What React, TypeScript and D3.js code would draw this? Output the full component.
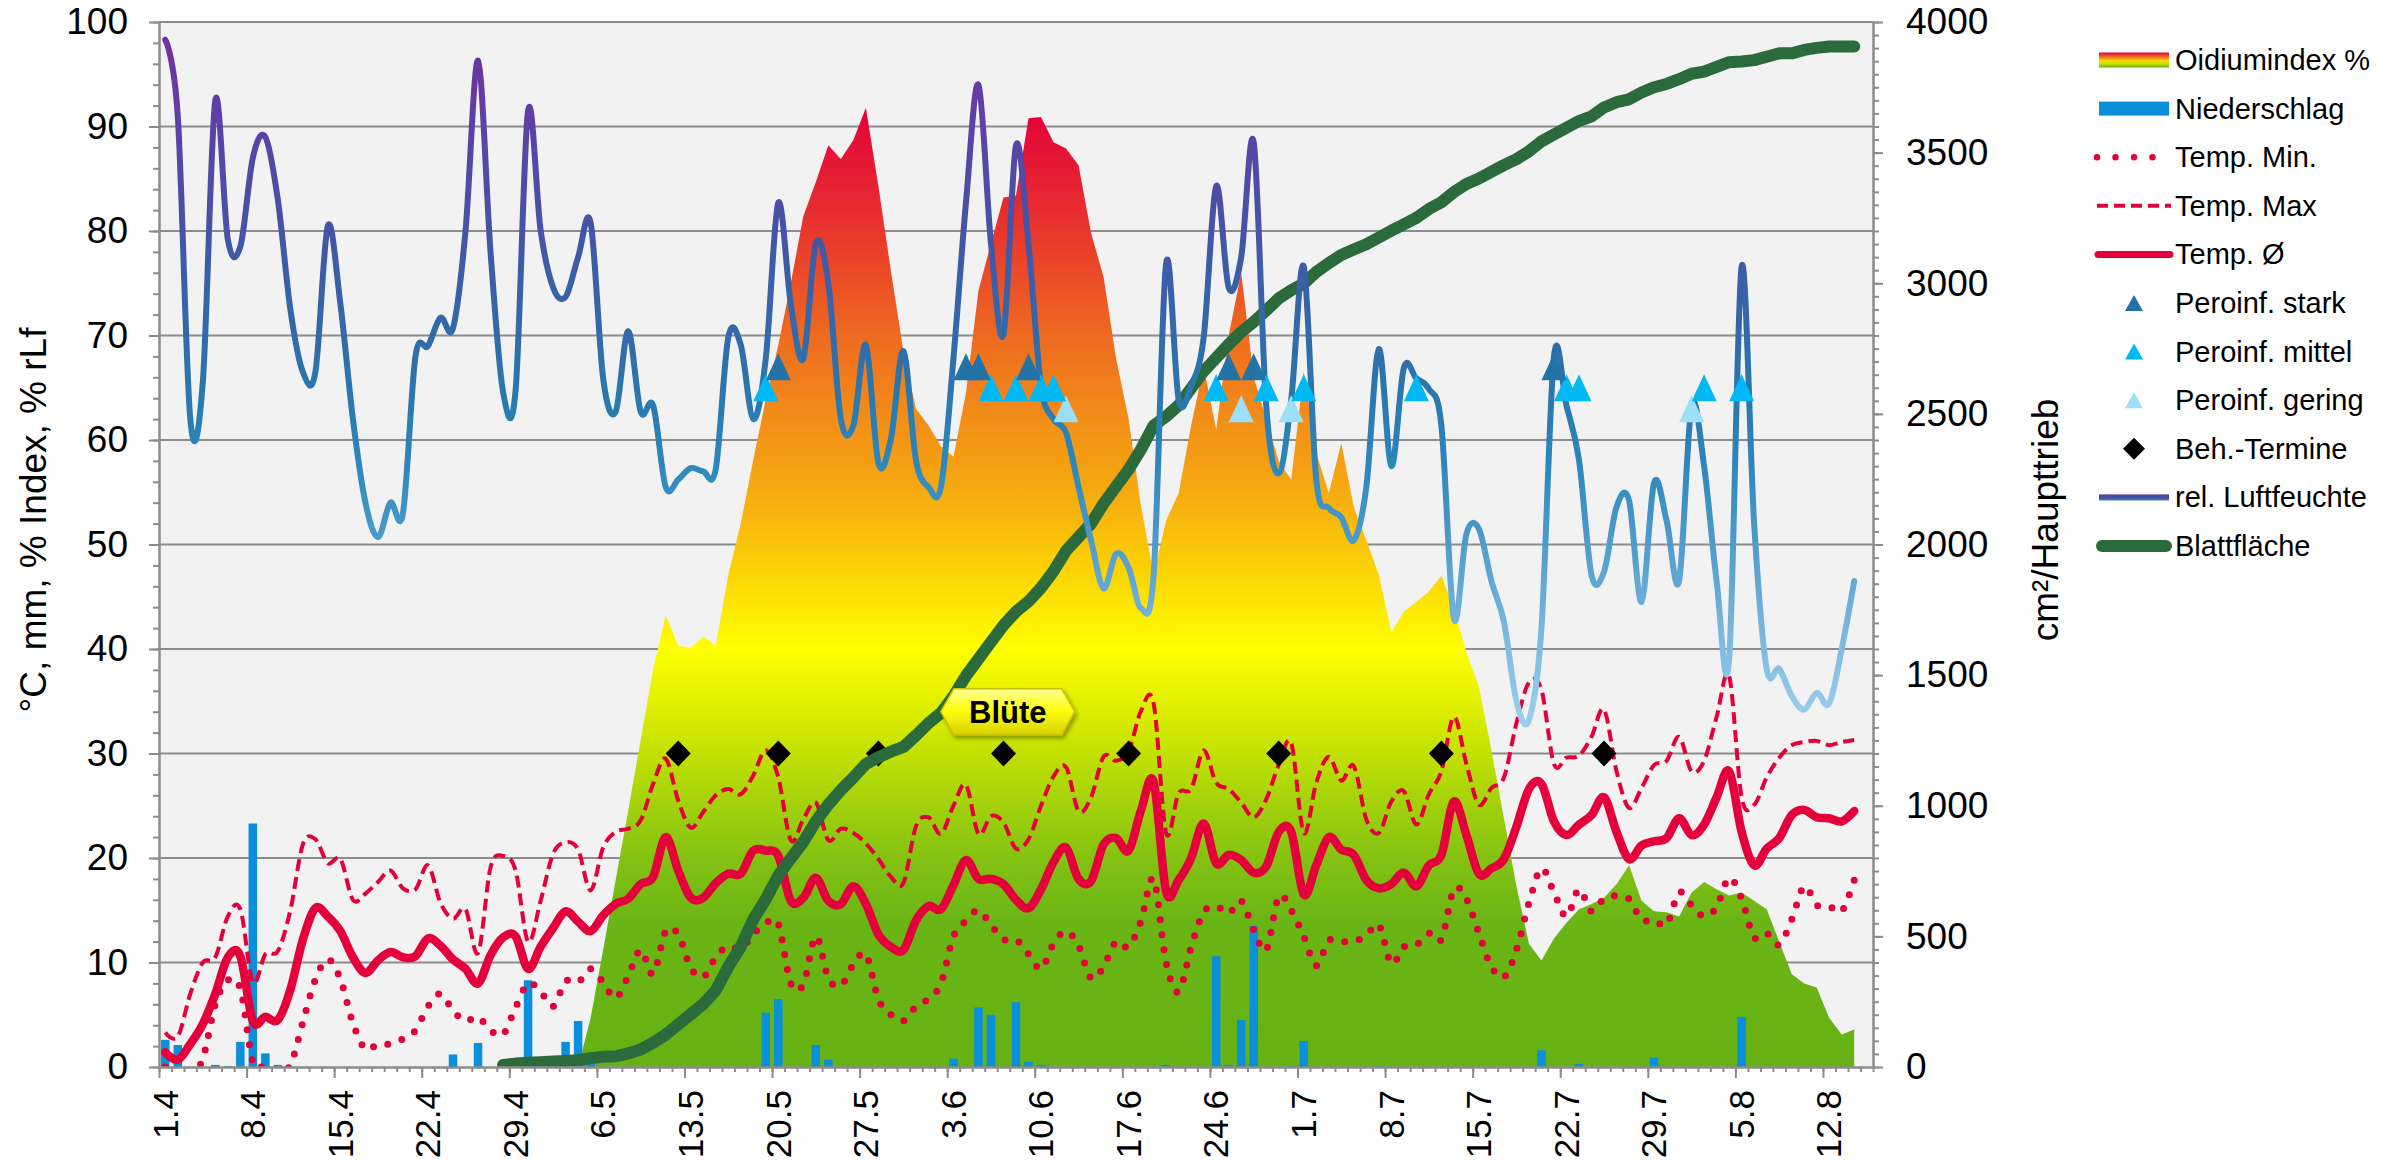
import { useEffect, useRef } from "react";
import * as d3 from "d3";

const width = 2404;
const height = 1163;
const plot = { left: 159, right: 1873, top: 22, bottom: 1067 };
const font = "'Liberation Sans', Arial, sans-serif";
const red = "#e4003b";
const axisGray = "#8c8c8c";

// categories: one per day, 1.4 .. 16.8
const nDays = 137;
const tickLabels = ["1.4", "8.4", "15.4", "22.4", "29.4", "6.5", "13.5", "20.5", "27.5", "3.6",
  "10.6", "17.6", "24.6", "1.7", "8.7", "15.7", "22.7", "29.7", "5.8", "12.8"];

// daily series, day 0 = 1.4
const tempAvg = [1.4, 0.7, 2.2, 4.1, 7.0, 10.5, 10.6, 4.4, 4.8, 4.5,
  7.4, 12.2, 15.2, 14.4, 13.0, 10.5, 9.0, 10.2, 11.0, 10.5,
  10.6, 12.3, 11.6, 10.3, 9.4, 8.0, 10.7, 12.4, 12.5, 9.4,
  11.5, 13.3, 14.9, 13.9, 13.0, 14.5, 15.6, 16.1, 17.5, 18.2,
  22.0, 18.8, 16.2, 16.2, 17.6, 18.5, 18.5, 20.7, 20.7, 20.2,
  15.9, 16.2, 18.1, 15.9, 15.6, 17.3, 15.6, 12.7, 11.5, 11.2,
  14.0, 15.4, 15.1, 17.4, 19.8, 18.0, 18.0, 17.5, 16.0, 15.2,
  17.0, 19.6, 21.0, 18.0, 17.8, 21.3, 21.9, 20.7, 24.6, 27.3,
  16.8, 17.9, 20.0, 23.3, 19.5, 20.3, 19.8, 18.6, 19.2, 22.5,
  22.5, 16.5, 19.3, 22.0, 20.8, 20.3, 17.9, 17.1, 17.5, 18.6,
  17.3, 19.3, 20.3, 25.4, 22.2, 18.5, 19.0, 19.9, 23.0, 26.6,
  27.1, 23.5, 22.2, 23.2, 24.1, 25.8, 22.5, 19.9, 21.2, 21.6,
  21.9, 23.8, 22.2, 23.2, 25.8, 28.3, 22.5, 19.3, 20.9, 21.9,
  24.1, 24.6, 23.9, 23.8, 23.5, 24.5];

const tempMax = [3.3, 2.9, 7.0, 10.0, 10.5, 14.4, 15.1, 8.1, 10.8, 11.1,
  15.0, 21.3, 21.8, 19.5, 19.9, 16.0, 16.6, 17.7, 18.8, 17.1,
  17.0, 19.3, 15.7, 14.2, 15.1, 10.9, 19.1, 20.2, 18.8, 12.0,
  15.9, 20.4, 21.5, 20.8, 16.9, 21.0, 22.5, 22.8, 23.6, 27.1,
  29.5, 25.5, 22.9, 24.4, 26.0, 26.6, 26.1, 27.9, 30.3, 27.7,
  21.7, 23.7, 25.3, 21.7, 22.8, 22.4, 21.4, 19.9, 18.2, 17.6,
  23.0, 23.9, 22.3, 25.0, 27.0, 22.3, 24.0, 23.4, 20.9, 21.8,
  25.0, 27.8, 28.7, 24.5, 25.8, 29.7, 29.3, 30.2, 34.1, 34.8,
  22.4, 26.2, 26.6, 30.3, 27.2, 26.6, 25.3, 23.9, 25.6, 28.9,
  31.0, 22.4, 27.2, 29.7, 27.4, 28.8, 23.7, 22.4, 25.4, 26.4,
  23.2, 26.1, 28.3, 33.5, 29.0, 25.1, 26.7, 27.7, 32.9, 36.8,
  36.1, 29.0, 29.6, 29.8, 31.6, 34.2, 28.3, 24.8, 26.7, 28.9,
  29.3, 31.6, 28.3, 29.3, 33.5, 37.4, 25.8, 25.1, 27.7, 29.6,
  30.8, 31.1, 31.2, 30.8, 31.1, 31.3];

const tempMin = [0.0, -1.0, -0.8, 0.8, 6.0, 8.3, 7.5, 0.5, 0.1, -0.4,
  0.2, 4.3, 8.4, 10.3, 8.4, 4.2, 1.7, 2.2, 2.2, 2.7,
  3.5, 5.8, 7.0, 5.4, 4.4, 4.8, 3.5, 3.1, 5.7, 8.0,
  7.2, 5.8, 8.2, 8.1, 9.4, 8.1, 6.6, 8.7, 11.2, 8.9,
  13.0, 12.7, 9.5, 8.6, 10.5, 11.6, 11.3, 12.7, 13.8, 13.7,
  8.0, 7.9, 12.5, 8.5, 7.8, 9.8, 10.8, 6.5, 5.0, 4.4,
  5.8, 6.5, 8.0, 12.5, 14.0, 15.0, 13.6, 12.2, 12.2, 10.8,
  9.4, 11.8, 13.0, 11.6, 8.5, 9.6, 12.0, 11.5, 14.0, 18.0,
  10.0, 7.2, 11.5, 14.8, 15.4, 14.7, 15.9, 13.1, 11.2, 16.3,
  15.0, 12.5, 9.7, 12.1, 12.0, 12.0, 12.6, 13.6, 9.9, 11.5,
  11.7, 12.8, 12.2, 17.0, 16.1, 12.8, 9.6, 8.6, 11.2, 15.7,
  19.0, 16.7, 14.4, 17.0, 14.9, 16.1, 16.4, 16.1, 14.1, 14.1,
  13.6, 16.7, 15.5, 14.4, 15.3, 18.1, 16.1, 12.4, 12.8, 11.7,
  14.1, 17.3, 15.5, 15.4, 14.9, 17.9];

const humidity = [98.3, 91.0, 62.0, 65.5, 92.5, 79.2, 78.5, 87.0, 89.0, 83.0,
  72.5, 66.5, 66.5, 80.5, 73.0, 62.0, 54.0, 50.7, 54.0, 53.0,
  68.0, 69.0, 71.7, 70.7, 80.0, 96.3, 78.0, 64.6, 64.7, 91.5,
  80.1, 74.6, 73.7, 77.5, 80.8, 65.9, 62.7, 70.4, 62.7, 63.3,
  55.5, 56.2, 57.3, 57.0, 57.2, 69.8, 69.1, 62.0, 67.8, 82.7,
  73.0, 67.8, 78.8, 75.0, 62.0, 61.4, 69.1, 57.8, 60.1, 68.5,
  58.1, 55.5, 55.5, 67.8, 82.7, 94.0, 78.8, 70.1, 88.2, 78.8,
  65.2, 62.0, 60.7, 55.5, 50.4, 45.8, 49.1, 47.8, 43.9, 47.1,
  76.9, 63.9, 65.2, 69.8, 84.3, 74.6, 77.5, 88.5, 63.3, 56.8,
  63.9, 76.6, 56.2, 53.5, 52.6, 50.4, 55.5, 68.7, 57.5, 66.9,
  65.9, 64.9, 61.4, 42.9, 51.0, 51.5, 46.5, 42.6, 35.0, 33.2,
  42.0, 68.0, 63.3, 58.1, 47.1, 47.4, 53.6, 54.2, 44.5, 55.9,
  52.3, 46.5, 63.3, 57.5, 46.5, 39.0, 76.6, 52.0, 38.1, 38.1,
  35.5, 34.2, 35.8, 34.8, 40.0, 46.5];

// Oidiumindex from 3.5 (day 33)
const oidiumStart = 33;
const oidium = [0, 4.7, 11.2, 17.9, 24.5, 31.3, 38.1,
  43.2, 40.3, 40.1, 41.2, 40.3, 47.1, 52.0, 58.1, 63.9, 69.1,
  75.0, 81.4, 84.7, 88.2, 86.9, 88.7, 91.8, 84.3, 76.2, 68.5,
  63.0, 61.4, 59.4, 58.4, 64.5, 74.3, 78.8, 83.2, 83.4, 90.8,
  90.9, 88.5, 87.9, 86.3, 79.8, 75.6, 67.8, 62.0, 53.6, 47.1,
  52.3, 54.9, 61.4, 67.0, 61.0, 70.0, 76.0, 66.0, 62.0, 58.0,
  56.2, 66.5, 58.8, 54.9, 59.7, 53.6, 50.4, 47.1, 41.6, 43.6,
  44.5, 45.5, 47.0, 43.9, 39.7, 36.4, 30.3, 23.8, 17.3, 11.8,
  10.2, 12.3, 13.8, 15.1, 15.6, 16.2, 17.5, 19.3, 15.9, 14.9,
  14.8, 14.4, 16.7, 17.7, 17.0, 16.4, 16.7, 15.9, 15.1, 12.0,
  8.9, 8.0, 7.6, 4.7, 3.1, 3.6];

// Blattfläche (cm²/Haupttrieb) from 28.4 (day 27)
const leafStart = 27;
const leafArea = [8, 13, 16,
  18, 21, 23, 26, 34, 39, 41, 52, 67, 93,
  124, 163, 202, 241, 293, 383, 461, 565, 642, 733,
  798, 862, 940, 1005, 1060, 1108, 1160, 1186, 1207, 1225,
  1269, 1316, 1355, 1419, 1497, 1562, 1627, 1691, 1743, 1782,
  1834, 1898, 1976, 2028, 2080, 2157, 2222, 2287, 2365, 2455,
  2490, 2533, 2598, 2663, 2714, 2766, 2813, 2852, 2896, 2942,
  2973, 2999, 3043, 3077, 3108, 3129, 3149, 3175, 3201, 3225,
  3250, 3284, 3310, 3349, 3380, 3401, 3427, 3452, 3475, 3505,
  3543, 3569, 3595, 3621, 3639, 3673, 3693, 3704, 3730, 3750,
  3763, 3781, 3802, 3810, 3828, 3846, 3849, 3854, 3867, 3880,
  3880, 3893, 3901, 3906, 3906, 3906];

// Niederschlag (mm)
const rainDays = [0, 1, 4, 5, 6, 7, 8, 9, 23, 25, 29, 32, 33, 34, 48, 49, 52, 53, 63, 65,
  66, 68, 69, 70, 80, 84, 85, 86, 87, 90, 91, 97, 110, 113, 119, 126];
const rainMm = [2.6, 2.1, 0.2, 0.1, 2.4, 23.3, 1.3, 0.2, 1.2, 2.3, 8.3, 2.4, 4.4, 1.3, 5.2, 6.5, 2.1, 0.7, 0.8, 5.7,
  5.0, 6.2, 0.5, 0.2, 0.2, 10.6, 0.2, 4.5, 13.5, 0.1, 2.5, 0.1, 1.6, 0.3, 0.9, 4.8];

// Peronospora infections and spray dates
const strongDays = [49, 64, 65, 69, 85, 87, 111];
const strongLevel = 67;
const mediumDays = [48, 66, 68, 70, 71, 84, 88, 91, 100, 112, 113, 123, 126];
const mediumLevel = 65;
const lowDays = [72, 86, 90, 122];
const lowLevel = 63;
const sprayDays = [41, 49, 57, 67, 77, 89, 102, 115];
const sprayLevel = 30;

const legendLabels = ["Oidiumindex %", "Niederschlag", "Temp. Min.", "Temp. Max", "Temp. Ø",
  "Peroinf. stark", "Peroinf. mittel", "Peroinf. gering", "Beh.-Termine", "rel. Luftfeuchte", "Blattfläche"];

const oidiumStops: [number, string][] = [[92, "#e3003b"], [85, "#e61f33"], [78, "#e9402a"], [70, "#ee6a20"],
  [62, "#f28e18"], [55, "#f6aa10"], [48, "#fbd006"], [40, "#ffff00"], [33, "#d6ea00"], [26, "#a8d40a"],
  [20, "#84c212"], [14, "#6ab516"], [0, "#66b214"]];
const humidityStops: [number, string][] = [[98, "#7032a0"], [90, "#5c42a6"], [80, "#4454a6"], [72, "#3566a8"],
  [65, "#2a76ad"], [58, "#2c86bb"], [50, "#4f9ccb"], [42, "#78b6de"], [34, "#98cdeb"]];

const App = () => {
  const ref = useRef<SVGSVGElement>(null);

  useEffect(() => {
    const svg = d3.select(ref.current);
    svg.selectAll("*").remove();

    const x = d3.scaleBand<number>().domain(d3.range(nDays)).range([plot.left, plot.right]);
    const bw = x.bandwidth();
    const cx = (d: number) => (x(d) as number) + bw / 2;
    const xEdge = d3.scaleLinear().domain([0, nDays]).range([plot.left, plot.right]);
    const y = d3.scaleLinear().domain([0, 100]).range([plot.bottom, plot.top]);
    const yR = d3.scaleLinear().domain([0, 4000]).range([plot.bottom, plot.top]);

    const defs = svg.append("defs");
    const gO = defs.append("linearGradient").attr("id", "oidGrad").attr("gradientUnits", "userSpaceOnUse")
      .attr("x1", 0).attr("x2", 0).attr("y1", y(100)).attr("y2", y(0));
    oidiumStops.forEach(([v, c]) => gO.append("stop").attr("offset", 1 - v / 100).attr("stop-color", c));
    const gH = defs.append("linearGradient").attr("id", "humGrad").attr("gradientUnits", "userSpaceOnUse")
      .attr("x1", 0).attr("x2", 0).attr("y1", y(100)).attr("y2", y(0));
    humidityStops.forEach(([v, c]) => gH.append("stop").attr("offset", 1 - v / 100).attr("stop-color", c));
    const gL = defs.append("linearGradient").attr("id", "oidLegend").attr("x1", 0).attr("x2", 0).attr("y1", 0).attr("y2", 1);
    [["0", "#e3003b"], ["0.3", "#f07020"], ["0.55", "#ffe000"], ["0.75", "#c8e000"], ["1", "#66b214"]]
      .forEach(([o, c]) => gL.append("stop").attr("offset", o).attr("stop-color", c));
    const gHL = defs.append("linearGradient").attr("id", "humLegend").attr("x1", 0).attr("x2", 0).attr("y1", 0).attr("y2", 1);
    [["0", "#6236a2"], ["0.5", "#4454a6"], ["1", "#2c7ab2"]]
      .forEach(([o, c]) => gHL.append("stop").attr("offset", o).attr("stop-color", c));
    const gB = defs.append("linearGradient").attr("id", "bloomGrad").attr("x1", 0).attr("x2", 0).attr("y1", 0).attr("y2", 1);
    [["0", "#ffff9a"], ["0.45", "#ffff10"], ["1", "#d8d200"]]
      .forEach(([o, c]) => gB.append("stop").attr("offset", o).attr("stop-color", c));
    const shadow = defs.append("filter").attr("id", "shadow").attr("x", -0.2).attr("y", -0.3).attr("width", 1.4).attr("height", 1.8);
    shadow.append("feDropShadow").attr("dx", 2).attr("dy", 3).attr("stdDeviation", 2).attr("flood-opacity", 0.35);
    defs.append("clipPath").attr("id", "plotClip").append("rect")
      .attr("x", plot.left).attr("y", plot.top).attr("width", plot.right - plot.left).attr("height", plot.bottom - plot.top);

    // plot area + gridlines
    svg.append("rect").attr("x", plot.left).attr("y", plot.top)
      .attr("width", plot.right - plot.left).attr("height", plot.bottom - plot.top).attr("fill", "#f2f2f2");
    svg.append("g").selectAll("line").data(d3.range(10, 101, 10)).join("line")
      .attr("x1", plot.left).attr("x2", plot.right).attr("y1", d => y(d)).attr("y2", d => y(d))
      .attr("stroke", axisGray).attr("stroke-width", 2);

    const g = svg.append("g").attr("clip-path", "url(#plotClip)");

    // Oidiumindex area
    const oidData = oidium.map((v, i) => ({ d: oidiumStart + i, v }));
    g.append("path").datum(oidData)
      .attr("d", d3.area<{ d: number; v: number }>().x(p => cx(p.d)).y0(y(0)).y1(p => y(p.v)))
      .attr("fill", "url(#oidGrad)");

    // Niederschlag
    g.selectAll(".rain").data(rainDays).join("rect").attr("class", "rain")
      .attr("x", d => cx(d) - bw * 0.34).attr("width", bw * 0.68)
      .attr("y", (_, i) => y(rainMm[i])).attr("height", (_, i) => y(0) - y(rainMm[i]))
      .attr("fill", "#0a8fdb");

    const smooth = d3.line<number>().x((_, i) => cx(i)).y(v => y(v)).curve(d3.curveCardinal.tension(0));

    g.append("path").attr("d", smooth(tempMin)).attr("fill", "none").attr("stroke", red)
      .attr("stroke-width", 7).attr("stroke-linecap", "round").attr("stroke-dasharray", "0 15");
    g.append("path").attr("d", smooth(tempMax)).attr("fill", "none").attr("stroke", red)
      .attr("stroke-width", 4).attr("stroke-dasharray", "12 6");
    g.append("path").attr("d", smooth(tempAvg)).attr("fill", "none").attr("stroke", red)
      .attr("stroke-width", 8.5).attr("stroke-linecap", "round").attr("stroke-linejoin", "round");

    // Beh.-Termine
    const diamond = "M0,-13 L12.5,0 L0,13 L-12.5,0 Z";
    g.selectAll(".spray").data(sprayDays).join("path").attr("class", "spray")
      .attr("d", diamond).attr("transform", d => `translate(${cx(d)},${y(sprayLevel)})`).attr("fill", "#000");

    // Blattfläche
    const leafData = leafArea.map((v, i) => ({ d: leafStart + i, v }));
    g.append("path").datum(leafData)
      .attr("d", d3.line<{ d: number; v: number }>().x(p => cx(p.d)).y(p => yR(p.v)))
      .attr("fill", "none").attr("stroke", "#2b6a3a").attr("stroke-width", 12)
      .attr("stroke-linecap", "round").attr("stroke-linejoin", "round");

    // rel. Luftfeuchte
    g.append("path").attr("d", smooth(humidity)).attr("fill", "none").attr("stroke", "url(#humGrad)")
      .attr("stroke-width", 6).attr("stroke-linecap", "round").attr("stroke-linejoin", "round");

    // Peronospora markers
    const tri = "M0,-13.5 L12.5,13.5 L-12.5,13.5 Z";
    const markerSets: [number[], number, string][] = [[lowDays, lowLevel, "#9ddff7"],
      [mediumDays, mediumLevel, "#00b9f4"], [strongDays, strongLevel, "#2473a6"]];
    markerSets.forEach(([days, level, color]) => {
      g.append("g").selectAll("path").data(days).join("path")
        .attr("d", tri).attr("transform", d => `translate(${cx(d)},${y(level)})`).attr("fill", color);
    });

    // Blüte
    const bx = (cx(67) + cx(68)) / 2 - 2;
    const by = y(34);
    const bloom = svg.append("g").attr("transform", `translate(${bx},${by})`);
    bloom.append("path").attr("d", "M-67,0 L-54,-23 L54,-23 L67,0 L54,23 L-54,23 Z")
      .attr("fill", "url(#bloomGrad)").attr("stroke", "#c9c100").attr("stroke-width", 1.5).attr("filter", "url(#shadow)");
    bloom.append("text").attr("text-anchor", "middle").attr("y", 11).attr("font-family", font)
      .attr("font-weight", "bold").attr("font-size", 31).text("Blüte");

    // axes
    const styleAxis = (sel: d3.Selection<SVGGElement, unknown, null, undefined>, size = 37) => {
      sel.select(".domain").attr("stroke", axisGray).attr("stroke-width", 2);
      sel.selectAll(".tick line").attr("stroke", axisGray).attr("stroke-width", 2);
      sel.selectAll("text").attr("font-family", font).attr("font-size", size).attr("fill", "#000");
    };
    const leftMinor = svg.append("g").attr("transform", `translate(${plot.left},0)`)
      .call(d3.axisLeft(y).tickValues(d3.range(0, 101, 2)).tickSize(6).tickSizeOuter(0).tickFormat(() => ""));
    styleAxis(leftMinor);
    const leftMajor = svg.append("g").attr("transform", `translate(${plot.left},0)`)
      .call(d3.axisLeft(y).tickValues(d3.range(0, 101, 10)).tickSize(10).tickSizeOuter(0).tickPadding(21));
    styleAxis(leftMajor);

    const rightMinor = svg.append("g").attr("transform", `translate(${plot.right},0)`)
      .call(d3.axisRight(yR).tickValues(d3.range(0, 4001, 50)).tickSize(6).tickSizeOuter(0).tickFormat(() => ""));
    styleAxis(rightMinor);
    const rightMajor = svg.append("g").attr("transform", `translate(${plot.right},0)`)
      .call(d3.axisRight(yR).tickValues(d3.range(0, 4001, 500)).tickSize(10).tickSizeOuter(0).tickPadding(23)
        .tickFormat(d3.format("d")));
    styleAxis(rightMajor);

    const bottomMinor = svg.append("g").attr("transform", `translate(0,${plot.bottom})`)
      .call(d3.axisBottom(xEdge).tickValues(d3.range(0, nDays + 1)).tickSize(5).tickSizeOuter(0).tickFormat(() => ""));
    styleAxis(bottomMinor);
    const bottomMajor = svg.append("g").attr("transform", `translate(0,${plot.bottom})`)
      .call(d3.axisBottom(xEdge).tickValues(d3.range(0, nDays, 7)).tickSize(11).tickSizeOuter(0).tickFormat(() => ""));
    styleAxis(bottomMajor);
    const bottomLabels = svg.append("g").attr("transform", `translate(0,${plot.bottom})`)
      .call(d3.axisBottom(x).tickValues(d3.range(0, nDays, 7)).tickSize(0)
        .tickFormat((_, i) => tickLabels[i]));
    styleAxis(bottomLabels, 35);
    bottomLabels.select(".domain").remove();
    bottomLabels.selectAll("text").attr("transform", "rotate(-90)").attr("text-anchor", "end")
      .attr("x", -23).attr("y", 0).attr("dy", "0.35em");

    // axis titles
    svg.append("text").attr("transform", "translate(46,520) rotate(-90)")
      .attr("text-anchor", "middle").attr("font-family", font).attr("font-size", 37).text("°C, mm, % Index, % rLf");
    svg.append("text").attr("transform", "translate(2058,520) rotate(-90)")
      .attr("text-anchor", "middle").attr("font-family", font).attr("font-size", 37).text("cm²/Haupttrieb");

    // legend
    const lx = 2099, lw = 70, tx = 2175;
    const legend = svg.append("g");
    legendLabels.forEach((label, k) => {
      const ly = 60 + k * 48.6;
      const row = legend.append("g");
      if (k === 0) row.append("rect").attr("x", lx).attr("y", ly - 7.5).attr("width", lw).attr("height", 15).attr("fill", "url(#oidLegend)");
      if (k === 1) row.append("rect").attr("x", lx).attr("y", ly - 7).attr("width", lw).attr("height", 14).attr("fill", "#0a8fdb");
      if (k === 2) row.append("line").attr("x1", lx - 2).attr("x2", lx + lw + 2).attr("y1", ly).attr("y2", ly)
        .attr("stroke", red).attr("stroke-width", 6.5).attr("stroke-linecap", "round").attr("stroke-dasharray", "0 18.5");
      if (k === 3) row.append("line").attr("x1", lx - 2).attr("x2", lx + lw + 2).attr("y1", ly).attr("y2", ly)
        .attr("stroke", red).attr("stroke-width", 4).attr("stroke-dasharray", "11 6");
      if (k === 4) row.append("line").attr("x1", lx - 1).attr("x2", lx + lw + 1).attr("y1", ly).attr("y2", ly)
        .attr("stroke", red).attr("stroke-width", 7).attr("stroke-linecap", "round");
      if (k >= 5 && k <= 7) {
        const colors = ["#2473a6", "#00b9f4", "#9ddff7"];
        row.append("path").attr("d", "M0,-8 L9,8 L-9,8 Z").attr("transform", `translate(${lx + lw / 2},${ly})`).attr("fill", colors[k - 5]);
      }
      if (k === 8) row.append("path").attr("d", "M0,-11 L11,0 L0,11 L-11,0 Z").attr("transform", `translate(${lx + lw / 2},${ly})`).attr("fill", "#000");
      if (k === 9) row.append("rect").attr("x", lx).attr("y", ly - 3).attr("width", lw).attr("height", 6).attr("fill", "url(#humLegend)");
      if (k === 10) row.append("line").attr("x1", lx + 3).attr("x2", lx + lw - 3).attr("y1", ly).attr("y2", ly)
        .attr("stroke", "#2b6a3a").attr("stroke-width", 12).attr("stroke-linecap", "round");
      row.append("text").attr("x", tx).attr("y", ly + 10).attr("font-family", font).attr("font-size", 29).text(label);
    });
  }, []);

  return (
    <div style={{ position: "absolute", left: 0, top: 0 }}>
      <svg ref={ref} width={width} height={height} />
    </div>
  );
};

export default App;
